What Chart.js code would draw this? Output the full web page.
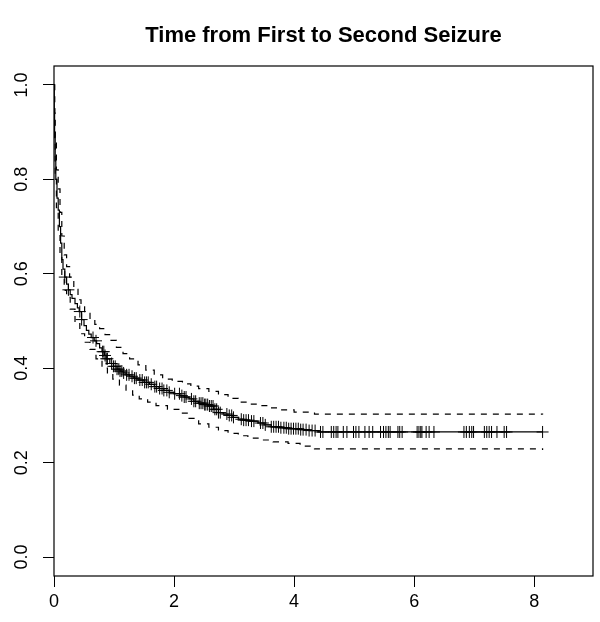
<!DOCTYPE html>
<html>
<head>
<meta charset="utf-8">
<script src="https://cdn.jsdelivr.net/npm/chart.js@4.4.1/dist/chart.umd.min.js"></script>
<style>
  html, body { margin: 0; padding: 0; background: #fff; }
</style>
</head>
<body>
<canvas id="kmChart" width="600" height="622"></canvas>
<script>
const chartTitle = 'Time from First to Second Seizure';

// Kaplan-Meier estimate (time, survival after the step)
const kmTimes = [0, 0.005, 0.01, 0.02, 0.03, 0.05, 0.07, 0.09, 0.11, 0.13, 0.15, 0.18, 0.21, 0.24, 0.27, 0.3, 0.35, 0.39,
  0.42, 0.46, 0.5, 0.54, 0.58, 0.62, 0.67, 0.71, 0.76, 0.8, 0.84, 0.87, 0.93, 0.99, 1.05, 1.1, 1.15, 1.2, 1.26, 1.33,
  1.4, 1.5, 1.59, 1.67, 1.75, 1.83, 1.92, 2.0, 2.1, 2.17, 2.25, 2.33, 2.41, 2.5, 2.58, 2.66, 2.74, 2.82, 2.9, 2.98,
  3.07, 3.16, 3.25, 3.4, 3.5, 3.62, 3.75, 3.9, 4.1, 4.25, 4.4, 8.14];
const kmSurv = [1.0, 0.95, 0.9, 0.84, 0.8, 0.76, 0.735, 0.7, 0.665, 0.63, 0.61, 0.593, 0.578, 0.566, 0.556, 0.548, 0.537, 0.528,
  0.52, 0.503, 0.49, 0.48, 0.472, 0.465, 0.458, 0.452, 0.443, 0.435, 0.427, 0.42, 0.41, 0.404, 0.398, 0.394, 0.39, 0.386, 0.383, 0.379,
  0.375, 0.37, 0.366, 0.361, 0.357, 0.353, 0.349, 0.346, 0.342, 0.339, 0.335, 0.33, 0.326, 0.323, 0.32, 0.313, 0.306, 0.303, 0.3, 0.296,
  0.292, 0.29, 0.288, 0.284, 0.28, 0.276, 0.274, 0.272, 0.27, 0.268, 0.265, 0.265];

// pointwise confidence band
const upperTimes = [0, 0.01, 0.02, 0.04, 0.07, 0.1, 0.13, 0.17, 0.21, 0.26, 0.33, 0.4, 0.45, 0.51, 0.6, 0.68, 0.76, 0.85, 0.95,
  1.04, 1.15, 1.26, 1.4, 1.53, 1.67, 1.81, 1.97, 2.14, 2.28, 2.41, 2.58, 2.74, 2.9, 3.07, 3.23, 3.4, 3.57, 3.74, 4.0, 4.34, 8.14];
const upperSurv = [1.0, 0.94, 0.88, 0.82, 0.78, 0.73, 0.68, 0.64, 0.615, 0.593, 0.567, 0.545, 0.53, 0.516, 0.503, 0.493, 0.484, 0.471, 0.459,
  0.444, 0.431, 0.42, 0.407, 0.396, 0.386, 0.377, 0.372, 0.367, 0.362, 0.357, 0.351, 0.344, 0.336, 0.328, 0.324, 0.321, 0.316, 0.312, 0.307, 0.303, 0.302];
const lowerTimes = [0, 0.01, 0.02, 0.04, 0.07, 0.1, 0.13, 0.17, 0.21, 0.27, 0.35, 0.43, 0.51, 0.6, 0.7, 0.8, 0.89, 0.98,
  1.09, 1.2, 1.31, 1.42, 1.56, 1.7, 1.89, 2.08, 2.25, 2.41, 2.58, 2.74, 2.9, 3.07, 3.23, 3.4, 3.65, 3.9, 4.1, 4.34, 8.14];
const lowerSurv = [1.0, 0.88, 0.8, 0.74, 0.69, 0.64, 0.59, 0.565, 0.55, 0.525, 0.497, 0.473, 0.455, 0.44, 0.42, 0.4, 0.388, 0.377,
  0.364, 0.352, 0.343, 0.335, 0.328, 0.321, 0.313, 0.305, 0.294, 0.282, 0.275, 0.268, 0.262, 0.257, 0.252, 0.248, 0.244, 0.241, 0.235, 0.229, 0.227];

// censored observations
const censorTimes = [0.18, 0.24, 0.43, 0.46, 0.65, 0.7, 0.81, 0.83, 0.85, 0.87, 0.89, 0.96, 0.99, 1.02, 1.05, 1.08,
  1.1, 1.13, 1.16, 1.21, 1.25, 1.3, 1.34, 1.37, 1.43, 1.47, 1.51, 1.54, 1.57, 1.62, 1.68, 1.71, 1.76, 1.8, 1.83, 1.88, 1.92,
  2.01, 2.09, 2.13, 2.17, 2.2, 2.29, 2.33, 2.36, 2.42, 2.45, 2.48, 2.51, 2.53, 2.56, 2.59, 2.62, 2.65, 2.68, 2.71, 2.74, 2.77,
  2.88, 2.92, 2.96, 2.99, 3.12, 3.16, 3.2, 3.24, 3.29, 3.33, 3.44, 3.48, 3.52, 3.62, 3.66, 3.7, 3.74, 3.78, 3.83, 3.87, 3.91,
  3.95, 3.99, 4.03, 4.07, 4.11, 4.15, 4.2, 4.25, 4.3, 4.35, 4.44, 4.48, 4.62, 4.66, 4.7, 4.73, 4.82, 4.88, 4.99, 5.03, 5.08,
  5.18, 5.25, 5.31, 5.44, 5.49, 5.53, 5.57, 5.6, 5.73, 5.76, 5.8, 6.05, 6.08, 6.11, 6.13, 6.2, 6.25, 6.33,
  6.83, 6.87, 6.92, 6.96, 6.99, 7.17, 7.21, 7.25, 7.29, 7.38, 7.5, 7.54, 8.14];

const xTicks = [0, 2, 4, 6, 8];
const yTicks = [0, 0.2, 0.4, 0.6, 0.8, 1.0];

const FONT = "'Liberation Sans', Arial, Helvetica, sans-serif";

function pairs(xs, ys) {
  return xs.map((x, i) => ({ x: x, y: ys[i] }));
}

// survival value of the step curve at time t
function survAt(t) {
  let s = kmSurv[0];
  for (let i = 0; i < kmTimes.length; i++) {
    if (kmTimes[i] <= t) s = kmSurv[i];
  }
  return s;
}

const framePlugin = {
  id: 'frame',
  afterDraw(chart) {
    const { ctx, chartArea: a } = chart;
    ctx.save();
    ctx.strokeStyle = '#000';
    ctx.lineWidth = 1.2;
    ctx.strokeRect(a.left, a.top, a.right - a.left, a.bottom - a.top);
    ctx.fillStyle = '#000';
    ctx.font = 'bold 22px ' + FONT;
    ctx.textAlign = 'center';
    ctx.textBaseline = 'alphabetic';
    ctx.fillText(chartTitle, (a.left + a.right) / 2, 42);
    ctx.restore();
  }
};

const stepLine = (data, dash) => ({
  type: 'line',
  data: data,
  stepped: 'before',
  borderColor: '#000',
  borderWidth: 1.2,
  borderDash: dash,
  pointRadius: 0,
  fill: false
});

new Chart(document.getElementById('kmChart').getContext('2d'), {
  type: 'scatter',
  data: {
    datasets: [
      stepLine(pairs(kmTimes, kmSurv), []),
      stepLine(pairs(upperTimes, upperSurv), [6, 6]),
      stepLine(pairs(lowerTimes, lowerSurv), [6, 6]),
      {
        type: 'scatter',
        data: censorTimes.map(t => ({ x: t, y: survAt(t) })),
        pointStyle: 'cross',
        pointRadius: 6,
        borderColor: '#000',
        borderWidth: 1,
        showLine: false
      }
    ]
  },
  options: {
    responsive: false,
    animation: false,
    devicePixelRatio: 1,
    layout: { padding: { top: 66, right: 3, left: 0, bottom: 0 } },
    plugins: { legend: { display: false }, tooltip: { enabled: false }, title: { display: false } },
    scales: {
      x: {
        type: 'linear',
        min: 0,
        max: 8.98,
        afterBuildTicks: s => { s.ticks = xTicks.map(v => ({ value: v })); },
        afterFit: s => { s.height = 46; },
        border: { display: false },
        grid: { drawOnChartArea: false, tickLength: 11, color: '#000', tickWidth: 1 },
        ticks: { color: '#000', font: { size: 18, family: FONT }, padding: 4, callback: v => String(v) }
      },
      y: {
        type: 'linear',
        min: -0.04,
        max: 1.04,
        afterBuildTicks: s => { s.ticks = yTicks.map(v => ({ value: v })); },
        afterFit: s => { s.width = 54; },
        border: { display: false },
        grid: { drawOnChartArea: false, tickLength: 11, color: '#000', tickWidth: 1 },
        ticks: { color: '#000', font: { size: 18, family: FONT }, minRotation: 90, maxRotation: 90, crossAlign: 'center', padding: 8,
          callback: v => v.toFixed(1) }
      }
    }
  },
  plugins: [framePlugin]
});
</script>
</body>
</html>
